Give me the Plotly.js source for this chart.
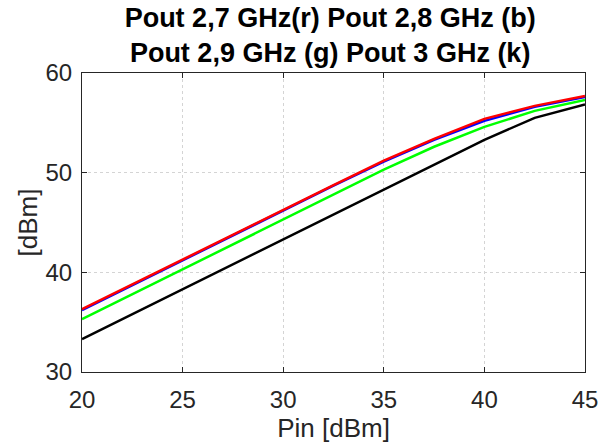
<!DOCTYPE html>
<html>
<head>
<meta charset="utf-8">
<script src="https://cdn.plot.ly/plotly-3.0.1.min.js"></script>
<style>
  html, body { margin: 0; padding: 0; background: #ffffff; }
  #chart { width: 608px; height: 445px; }
</style>
</head>
<body>
<div id="chart"></div>
<script>
// Input drive level [dBm]
const pin = [20, 22.5, 25, 27.5, 30, 32.5, 35, 37.5, 40, 42.5, 45];

// Output power [dBm] per frequency
const pout27 = [36.3, 38.8, 41.3, 43.8, 46.3, 48.75, 51.2, 53.4, 55.4, 56.7, 57.7];
const pout28 = [36.2, 38.7, 41.2, 43.7, 46.2, 48.7, 51.1, 53.3, 55.2, 56.6, 57.6];
const pout29 = [35.3, 37.8, 40.3, 42.8, 45.3, 47.8, 50.3, 52.6, 54.6, 56.2, 57.3];
const pout30 = [33.3, 35.8, 38.3, 40.8, 43.3, 45.8, 48.25, 50.75, 53.3, 55.5, 56.85];

const xTicks = [20, 25, 30, 35, 40, 45];
const yTicks = [30, 40, 50, 60];

const axisColor = '#262626';
const font = 'Liberation Sans, Arial, Helvetica, sans-serif';

function series(y, color) {
  return {
    x: pin, y: y, type: 'scatter', mode: 'lines',
    line: { color: color, width: 2.5 },
    hoverinfo: 'skip', showlegend: false
  };
}

const traces = [
  series(pout30, '#000000'),
  series(pout29, '#00ff00'),
  series(pout28, '#0000ff'),
  series(pout27, '#ff0000')
];

const axisCommon = {
  showline: true, mirror: 'ticks', linecolor: axisColor, linewidth: 1,
  ticks: 'inside', ticklen: 5, tickcolor: axisColor, tickwidth: 1,
  showgrid: true, gridcolor: '#d4d4d4', griddash: 'dot', gridwidth: 1,
  zeroline: false,
  tickfont: { family: font, size: 24, color: axisColor }
};

const layout = {
  width: 608, height: 445,
  paper_bgcolor: '#ffffff', plot_bgcolor: '#ffffff',
  margin: { l: 82, r: 23, t: 73, b: 73, pad: 0 },
  title: {
    text: '<b>Pout 2,7 GHz(r) Pout 2,8 GHz (b)<br>Pout 2,9 GHz (g) Pout 3 GHz (k)</b>',
    font: { family: font, size: 27, color: '#000000' },
    xref: 'container', x: 0.543, xanchor: 'center',
    yref: 'container', y: 0.94, yanchor: 'top'
  },
  xaxis: Object.assign({}, axisCommon, {
    range: [20, 45], tickvals: xTicks, ticktext: xTicks.map(String),
    ticklabelstandoff: 6,
    title: { text: 'Pin [dBm]', font: { family: font, size: 26, color: axisColor }, standoff: 5 }
  }),
  yaxis: Object.assign({}, axisCommon, {
    range: [30, 60], tickvals: yTicks, ticktext: yTicks.map(String),
    ticklabelstandoff: 4,
    title: { text: '[dBm]', font: { family: font, size: 26, color: axisColor }, standoff: 0 }
  })
};

Plotly.newPlot('chart', traces, layout, { displayModeBar: false, staticPlot: true });
</script>
</body>
</html>
